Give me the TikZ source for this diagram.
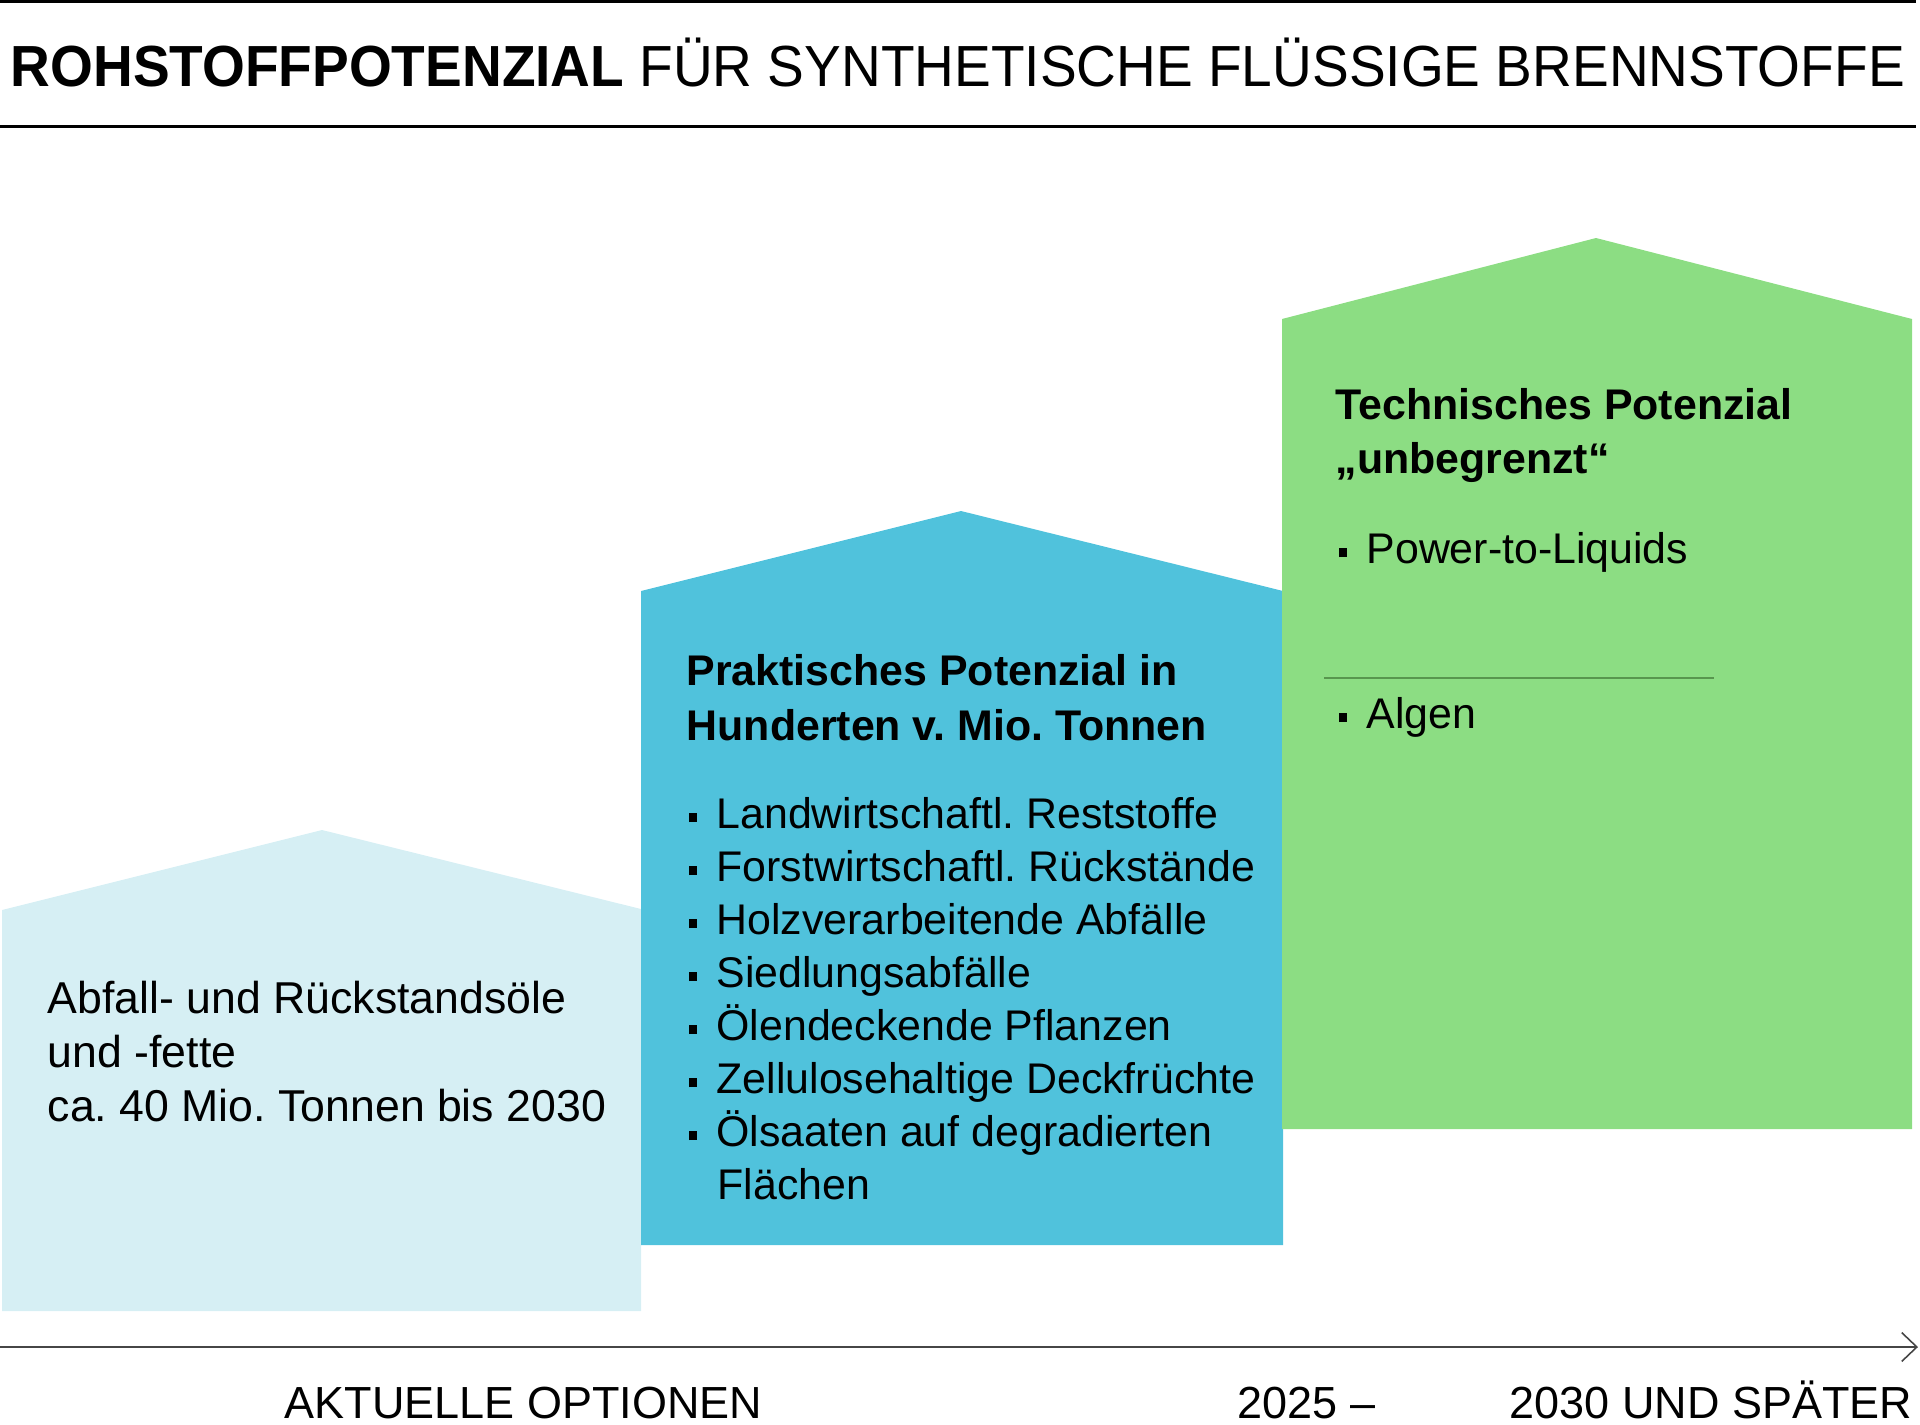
\documentclass[tikz,border=0pt]{standalone}
\usepackage{graphicx}
\usepackage{fontspec}
\setmainfont{Liberation Sans}
\usetikzlibrary{arrows.meta}

\definecolor{palecyan}{RGB}{214,239,244}
\definecolor{midcyan}{RGB}{80,194,220}
\definecolor{leafgreen}{RGB}{140,221,131}
\definecolor{rulegreen}{RGB}{88,150,78}
\definecolor{axisgray}{RGB}{70,70,70}
\newcommand{\sqbullet}{\rule[0.14em]{0.2em}{0.2em}\hspace{0.45em}}

\begin{document}
\frenchspacing
\begin{tikzpicture}[x=0.1mm,y=-0.1mm,
  every node/.style={inner sep=0pt,anchor=base west,font=\fontsize{12.2}{15}\selectfont},
  note/.style={font=\fontsize{12.7}{15}\selectfont},
  head/.style={font=\fontsize{12.2}{15}\selectfont\bfseries},
  tag/.style={font=\fontsize{12.8}{15}\selectfont}]
  \useasboundingbox (0,0) rectangle (1920,1424);

  % title between two rules
  \draw[line width=0.75pt] (0,1.4) -- (1916,1.4);
  \draw[line width=0.7pt] (0,126.5) -- (1916,126.5);
  \node (title) at (10,86) {\resizebox{18.94cm}{\height}{\fontsize{16.5}{19}\selectfont
    \textbf{ROHSTOFFPOTENZIAL} FÜR SYNTHETISCHE FLÜSSIGE BRENNSTOFFE}};

  % the three houses
  \fill[palecyan] (2,1311) -- (2,910) -- (322,830) -- (641,909) -- (641,1311) -- cycle;
  \fill[midcyan] (641,1245) -- (641,591) -- (961,511) -- (1283,591) -- (1283,1245) -- cycle;
  \fill[leafgreen] (1282,1129) -- (1282,319) -- (1596,238) -- (1912,319) -- (1912,1129) -- cycle;

  % current options
  \node[note] (oil1) at (47,1013) {Abfall- und Rückstandsöle};
  \node[note] (oil2) at (47,1067) {und -fette};
  \node[note] (oil3) at (47,1121) {ca. 40 Mio. Tonnen bis 2030};

  % practical potential
  \node[head] (prak1) at (686,685) {Praktisches Potenzial in};
  \node[head] (prak2) at (686,740) {Hunderten v. Mio. Tonnen};
  \foreach \t [count=\i from 0] in {Landwirtschaftl. Reststoffe,
      Forstwirtschaftl. Rückstände, Holzverarbeitende Abfälle,
      Siedlungsabfälle, Ölendeckende Pflanzen,
      Zellulosehaltige Deckfrüchte, Ölsaaten auf degradierten}
    \node (res\i) at (688,828+53*\i) {\sqbullet\t};
  \node (res7) at (717,1199) {Flächen};

  % technical potential
  \node[head] (tech1) at (1335,419) {Technisches Potenzial};
  \node[head] (tech2) at (1335,473) {„unbegrenzt“};
  \node (ptl) at (1338,563) {\sqbullet Power-to-Liquids};
  \draw[rulegreen,line width=0.35pt] (1324,678) -- (1714,678);
  \node (algen) at (1338,728) {\sqbullet Algen};

  % time axis
  \coordinate (t0) at (0,1347);
  \coordinate (t1) at (1918,1347);
  \draw[axisgray,line width=0.45pt,-{Straight Barb[length=4.3pt,width=8.2pt]}] (t0) -- (t1);
  \node[tag] (now) at (284,1418) {AKTUELLE OPTIONEN};
  \node[tag] (mid) at (1237,1418) {2025 –};
  \node[tag,anchor=base east] (late) at (1913,1418) {2030 UND SPÄTER};
\end{tikzpicture}
\end{document}
